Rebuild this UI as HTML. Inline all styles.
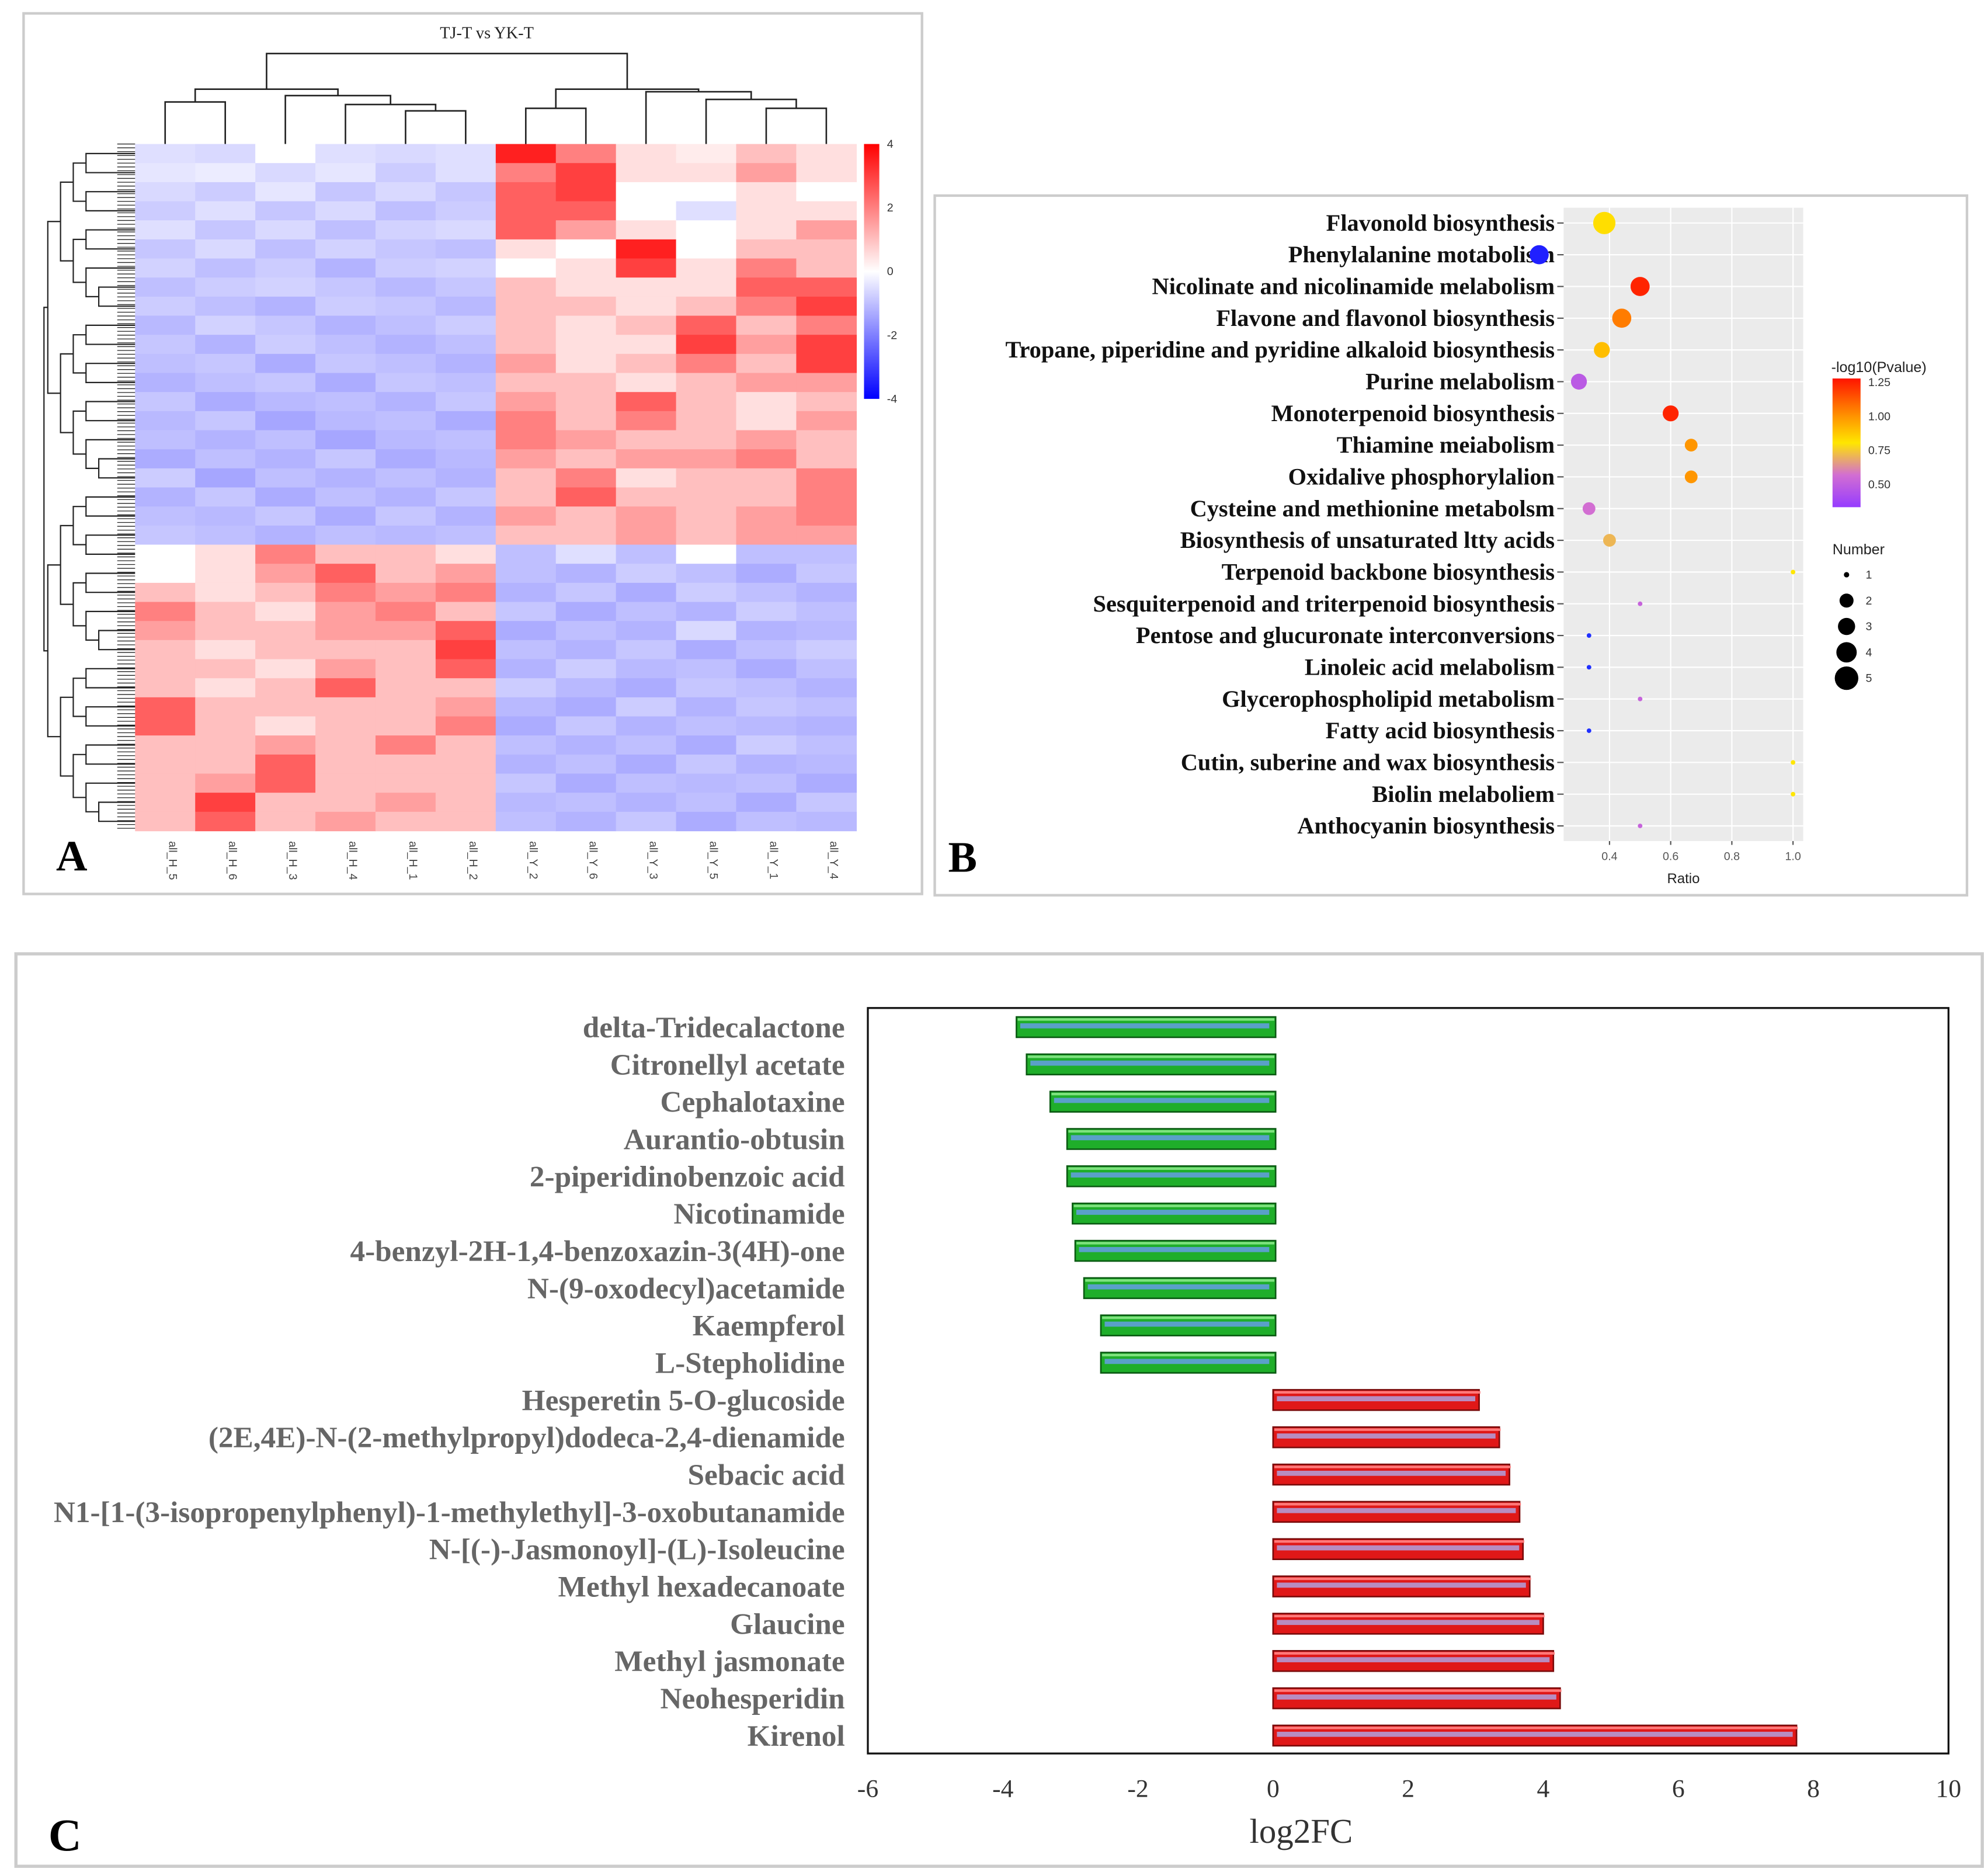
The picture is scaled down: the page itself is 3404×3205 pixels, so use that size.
<!DOCTYPE html>
<html><head><meta charset="utf-8">
<style>
html,body{margin:0;padding:0;background:#fff;}
svg{display:block;}
</style></head>
<body>
<svg id="root" xmlns="http://www.w3.org/2000/svg" width="3404" height="3205" viewBox="0 0 1560 1469" preserveAspectRatio="none">
<rect x="0" y="0" width="1560" height="1469" fill="#fff"/>
<g id="pa"></g>
<g id="pb"></g>
<g id="pc"></g>
</svg>
<script>
// ===== Panel A data =====
const hmColumns = ["all_H_5","all_H_6","all_H_3","all_H_4","all_H_1","all_H_2","all_Y_2","all_Y_6","all_Y_3","all_Y_5","all_Y_1","all_Y_4"];
const hmValues = [
[-0.5,-0.6,0,-0.5,-0.6,-0.5, 3.5,2,0.5,0.3,1,0.5],
[-0.4,-0.3,-0.6,-0.4,-0.8,-0.5, 2,3,0.5,0.5,1.5,0.5],
[-0.6,-0.8,-0.4,-0.9,-0.6,-0.9, 2.5,3,0,0,0.5,0],
[-0.8,-0.5,-0.9,-0.6,-1,-0.8, 2.5,2.5,0,-0.5,0.5,0.5],
[-0.5,-0.9,-0.6,-1,-0.7,-0.6, 2.5,1.5,0.5,0,0.5,1.5],
[-0.9,-0.6,-1,-0.7,-0.9,-1, 0.5,0,3.5,0,1,1],
[-0.7,-1,-0.8,-1.2,-0.8,-0.7, 0,0.5,3,0.5,2,1],
[-1,-0.8,-0.7,-0.9,-1.1,-0.9, 1,0.5,0.5,0.5,2.5,2.5],
[-0.8,-1,-1.2,-0.8,-0.9,-1.1, 1,1,0.5,1,2,3],
[-1.1,-0.7,-0.9,-1.2,-1,-0.8, 1,0.5,1,2.5,1,2],
[-0.9,-1.2,-0.8,-1,-1.2,-1, 1,0.5,0.5,3,1.5,3],
[-1,-0.9,-1.3,-0.9,-1,-1.2, 1.5,0.5,1,2,1,3],
[-1.2,-1,-0.9,-1.3,-0.9,-1, 1,1,0.5,1,1.5,1.5],
[-0.9,-1.3,-1.1,-1,-1.2,-0.9, 1.5,1,2.5,1,0.5,1],
[-1.1,-0.9,-1.4,-1.1,-1,-1.3, 2,1,2,1,0.5,1.5],
[-1,-1.2,-1,-1.4,-1.1,-1, 2,1.5,1,1,1.5,1],
[-1.3,-1,-1.2,-0.9,-1.3,-1.1, 1.5,1,1.5,1.5,2,1],
[-0.8,-1.4,-1,-1.2,-1,-1.2, 1,2,0.5,1,1,2],
[-1.2,-0.9,-1.3,-1,-1.2,-0.9, 1,2.5,1,1,1,2],
[-1,-1.1,-0.9,-1.3,-0.9,-1.2, 1.5,1,1.5,1,1.5,2],
[-0.9,-1,-1.2,-1,-1.1,-1, 1,1,1.5,1,1.5,1.5],
[0,0.5,2,1,1,0.5, -1,-0.5,-1,0,-1,-1],
[0,0.5,1.5,2.5,1,1.5, -1,-1.2,-0.8,-1,-1.3,-0.9],
[1,0.5,1,2,1.5,2, -1.2,-0.9,-1.3,-0.8,-1,-1.2],
[2,1,0.5,1.5,2,1, -0.9,-1.3,-1,-1.2,-0.8,-1],
[1.5,1,1,1.5,1.5,2.5, -1.3,-1,-1.2,-0.6,-1.2,-1.1],
[1,0.5,1,1,1,3, -1,-1.2,-0.9,-1.3,-1,-0.8],
[1,1,0.5,1.5,1,2.5, -1.2,-0.8,-1.1,-1,-1.3,-1],
[1,0.5,1,2.5,1,1, -0.8,-1.1,-1.3,-0.9,-1,-1.2],
[2.5,1,1,1,1,1.5, -1.1,-1.3,-0.8,-1.2,-0.9,-1],
[2.5,1,0.5,1,1,2, -1.3,-0.9,-1.2,-1,-1.1,-1.2],
[1,1,1.5,1,2,1, -1,-1.2,-1,-1.3,-0.8,-1],
[1,1,2.5,1,1,1, -1.2,-1,-1.3,-0.9,-1.2,-1.1],
[1,1.5,2.5,1,1,1, -0.9,-1.3,-1,-1.1,-1,-1.3],
[1,3,1,1,1.5,1, -1.1,-1,-1.2,-1,-1.3,-0.9],
[1,2.5,1,1.5,1,1, -1,-1.2,-0.9,-1.3,-1,-1.1]
];
const hmTicks = [4,2,0,-2,-4];

// ===== Panel B data =====
const pathways = ["Flavonold biosynthesis","Phenylalanine motabolism","Nicolinate and nicolinamide melabolism","Flavone and flavonol biosynthesis","Tropane, piperidine and pyridine alkaloid biosynthesis","Purine melabolism","Monoterpenoid biosynthesis","Thiamine meiabolism","Oxidalive phosphorylalion","Cysteine and methionine metabolsm","Biosynthesis of unsaturated ltty acids","Terpenoid backbone biosynthesis","Sesquiterpenoid and triterpenoid biosynthesis","Pentose and glucuronate interconversions","Linoleic acid melabolism","Glycerophospholipid metabolism","Fatty acid biosynthesis","Cutin, suberine and wax biosynthesis","Biolin melaboliem","Anthocyanin biosynthesis"];
const ratios = [0.383,0.17,0.5,0.44,0.375,0.3,0.6,0.667,0.667,0.333,0.4,1.0,0.5,0.333,0.333,0.5,0.333,1.0,1.0,0.5];
const pvals = [0.82,0.35,1.22,1.05,0.9,0.45,1.22,1.0,1.0,0.55,0.7,0.8,0.5,0.3,0.3,0.5,0.3,0.8,0.8,0.5];
const counts = [5,4,4,4,3,3,3,2,2,2,2,1,1,1,1,1,1,1,1,1];
const ratioTicks = [0.4,0.6,0.8,1.0];
const pvalTicks = [1.25,1.00,0.75,0.50];
const numberTicks = [1,2,3,4,5];

// ===== Panel C data =====
const metabolites = ["delta-Tridecalactone","Citronellyl acetate","Cephalotaxine","Aurantio-obtusin","2-piperidinobenzoic acid","Nicotinamide","4-benzyl-2H-1,4-benzoxazin-3(4H)-one","N-(9-oxodecyl)acetamide","Kaempferol","L-Stepholidine","Hesperetin 5-O-glucoside","(2E,4E)-N-(2-methylpropyl)dodeca-2,4-dienamide","Sebacic acid","N1-[1-(3-isopropenylphenyl)-1-methylethyl]-3-oxobutanamide","N-[(-)-Jasmonoyl]-(L)-Isoleucine","Methyl hexadecanoate","Glaucine","Methyl jasmonate","Neohesperidin","Kirenol"];
const log2fc = [-3.8,-3.65,-3.3,-3.05,-3.05,-2.97,-2.93,-2.8,-2.55,-2.55,3.05,3.35,3.5,3.65,3.7,3.8,4.0,4.15,4.25,7.75];
const fcTicks = [-6,-4,-2,0,2,4,6,8,10];

const NS="http://www.w3.org/2000/svg";
function mk(parent,tag,attrs,text){const e=document.createElementNS(NS,tag);for(const k in attrs)e.setAttribute(k,attrs[k]);if(text!==undefined)e.textContent=text;parent.appendChild(e);return e;}

// ---------- Panel A ----------
(function(){
const g=document.getElementById('pa');
let e=mk(g,'rect',{x:18.5,y:10.5,width:705,height:691,fill:'none',stroke:'#ccc','stroke-width':2});


e=mk(g,'text',{x:382,y:30,'font-family':'Liberation Serif, serif','font-size':13,'text-anchor':'middle',fill:'#222'},'TJ-T vs YK-T');


const X0=106,X1=672,Y0=113,Y1=652;
const cw=(X1-X0)/hmColumns.length, rh=(Y1-Y0)/hmValues.length;
function col(v){const t=Math.max(-1,Math.min(1,v/4));
 if(t>=0){const c=Math.round(255*(1-t));return `rgb(255,${c},${c})`;}
 const c=Math.round(255*(1+t));return `rgb(${c},${c},255)`;}
const hm=mk(g,'g',{});


hmValues.forEach((row,i)=>row.forEach((v,j)=>{
 const r=mk(hm,'rect',{x:X0+j*cw,y:Y0+i*rh,width:cw+0.3,height:rh+0.3,fill:col(v)});
 
 
}));
hmColumns.forEach((c,j)=>{
 const x=X0+(j+0.5)*cw;
 const t=mk(g,'text',{x:0,y:0,transform:`translate(${x+3},660) rotate(90)`,'font-family':'Liberation Sans, sans-serif','font-size':9,fill:'#444'},c);
 
 
});
const defs=mk(g,'defs',{});
const lg=mk(defs,'linearGradient',{id:'hmg',x1:0,y1:0,x2:0,y2:1});
mk(lg,'stop',{offset:'0',  'stop-color':'#ff0000'});
mk(lg,'stop',{offset:'0.5','stop-color':'#ffffff'});
mk(lg,'stop',{offset:'1',  'stop-color':'#0000ff'});
e=mk(g,'rect',{x:678,y:113,width:12,height:200,fill:'url(#hmg)'});


hmTicks.forEach(v=>{const y=113+(4-v)/8*200;
 const t=mk(g,'text',{x:696,y:y+3,'font-family':'Liberation Sans, sans-serif','font-size':9,fill:'#333'},String(v));
 
 });
const td=mk(g,'g',{stroke:'#222','stroke-width':1.2,fill:'none'});


const cx=j=>X0+(j+0.5)*cw;
function U(xa,ya,xb,yb,ytop){mk(td,'path',{d:`M${xa},${ya}V${ytop}H${xb}V${yb}`});}
U(cx(0),113,cx(1),113,80);
U(cx(4),113,cx(5),113,87);
const m45=(cx(4)+cx(5))/2;
U(cx(3),113,m45,87,82);
const m345=(cx(3)+m45)/2;
U(cx(2),113,m345,82,75);
const m2=(cx(2)+m345)/2, m01=(cx(0)+cx(1))/2;
U(m01,80,m2,75,70);
U(cx(6),113,cx(7),113,85);
U(cx(10),113,cx(11),113,85);
const m1011=(cx(10)+cx(11))/2;
U(cx(9),113,m1011,85,78);
const m9=(cx(9)+m1011)/2;
U(cx(8),113,m9,78,72);
const m8=(cx(8)+m9)/2, m67=(cx(6)+cx(7))/2;
U(m67,85,m8,72,70);
U((m01+m2)/2,70,(m67+m8)/2,70,42);
const ld=mk(g,'g',{stroke:'#222','stroke-width':1,fill:'none'});


function tree(a,b,depth){
 if(b-a<=1){return [Y0+(a+0.5)*rh,X0];}
 const m=Math.floor((a+b)/2);
 const p=tree(a,m,depth+1), q=tree(m,b,depth+1);
 const x=Math.max(36,X0-12-Math.max(0,7-depth)*9.5+depth*0.5);
 const xx=Math.min(x,Math.min(p[1],q[1])-3);
 mk(ld,'path',{d:`M${p[1]},${p[0]}H${xx}V${q[0]}H${q[1]}`});
 return [(p[0]+q[0])/2,xx];
}
tree(0,hmValues.length,0);
for(let y=Y0;y<Y1;y+=3){mk(ld,'line',{x1:92,y1:y,x2:X0,y2:y,'stroke-width':0.6});}
e=mk(g,'text',{x:44,y:683,'font-family':'Liberation Serif, serif','font-size':34,'font-weight':'bold',fill:'#000'},'A');


})();

// ---------- Panel B ----------
(function(){
const g=document.getElementById('pb');
let e=mk(g,'rect',{x:733.5,y:153.5,width:810,height:549,fill:'none',stroke:'#ccc','stroke-width':2});


const PX0=1227,PX1=1415,PY0=163,PY1=660;
e=mk(g,'rect',{x:PX0,y:PY0,width:PX1-PX0,height:PY1-PY0,fill:'#ebebeb'});


const xs=r=>1263+(r-0.4)*240;
const ys=i=>175+i*24.9;
ratioTicks.forEach(t=>{mk(g,'line',{x1:xs(t),y1:PY0,x2:xs(t),y2:PY1,stroke:'#fff','stroke-width':1});});
pathways.forEach((p,i)=>{mk(g,'line',{x1:PX0,y1:ys(i),x2:PX1,y2:ys(i),stroke:'#fff','stroke-width':1});});
function pc(v){
 const stops=[[0.3,[150,60,255]],[0.55,[210,110,210]],[0.8,[255,230,0]],[1.0,[255,150,0]],[1.25,[255,20,0]]];
 v=Math.max(0.3,Math.min(1.25,v));
 for(let k=0;k<stops.length-1;k++){const a=stops[k],b=stops[k+1];if(v<=b[0]){const t=(v-a[0])/(b[0]-a[0]);return `rgb(${a[1].map((c,n)=>Math.round(c+(b[1][n]-c)*t)).join(',')})`;}}
 return 'rgb(255,20,0)';
}
function colP(i){ if(i===1) return '#2020ff'; if(pvals[i]<=0.3) return '#2030ff'; return pc(pvals[i]); }
const rad=n=>n===1?1.8:2.5+n*1.25;
pathways.forEach((p,i)=>{
 const t=mk(g,'text',{x:1220,y:ys(i)+6,'text-anchor':'end','font-family':'Liberation Serif, serif','font-size':18.5,'font-weight':'bold',fill:'#111'},p);
 
 
 mk(g,'line',{x1:1222,y1:ys(i),x2:PX0,y2:ys(i),stroke:'#555','stroke-width':1});
 const c=mk(g,'circle',{cx:xs(ratios[i]),cy:ys(i),r:rad(counts[i]),fill:colP(i)});
 
 
});
ratioTicks.forEach(t=>{
 mk(g,'line',{x1:xs(t),y1:PY1,x2:xs(t),y2:PY1+3,stroke:'#555'});
 const l=mk(g,'text',{x:xs(t),y:PY1+15,'text-anchor':'middle','font-family':'Liberation Sans, sans-serif','font-size':9,fill:'#555'},t.toFixed(1));
 
 
});
e=mk(g,'text',{x:1321,y:693,'text-anchor':'middle','font-family':'Liberation Sans, sans-serif','font-size':11,fill:'#222'},'Ratio');


e=mk(g,'text',{x:1437,y:292,'font-family':'Liberation Sans, sans-serif','font-size':11.5,fill:'#222'},'-log10(Pvalue)');


const defs=mk(g,'defs',{});
const lg=mk(defs,'linearGradient',{id:'pvg',x1:0,y1:0,x2:0,y2:1});
[[0,'#ff1400'],[0.3,'#ff9600'],[0.5,'#ffe600'],[0.75,'#d26ed2'],[1,'#963cff']].forEach(s=>mk(lg,'stop',{offset:s[0],'stop-color':s[1]}));
e=mk(g,'rect',{x:1438,y:297,width:22,height:101,fill:'url(#pvg)'});


pvalTicks.forEach(v=>{const y=300+(1.25-v)/0.25*26.7;
 const l=mk(g,'text',{x:1466,y:y+3,'font-family':'Liberation Sans, sans-serif','font-size':9,fill:'#333'},v.toFixed(2));
 
 });
e=mk(g,'text',{x:1438,y:435,'font-family':'Liberation Sans, sans-serif','font-size':11.5,fill:'#222'},'Number');


numberTicks.forEach((n,k)=>{const y=451+k*20.3;
 const c=mk(g,'circle',{cx:1449,cy:y,r:rad(n)+ (n>1?0.5:0.3),fill:'#000'});
 
 
 const l=mk(g,'text',{x:1464,y:y+3,'font-family':'Liberation Sans, sans-serif','font-size':9,fill:'#333'},String(n));
 
 });
e=mk(g,'text',{x:744,y:684,'font-family':'Liberation Serif, serif','font-size':34,'font-weight':'bold',fill:'#000'},'B');


})();

// ---------- Panel C ----------
(function(){
const g=document.getElementById('pc');
let e=mk(g,'rect',{x:12.5,y:748.5,width:1543,height:716,fill:'none',stroke:'#ccc','stroke-width':2.5});


const PX0=681,PX1=1529,PY0=791,PY1=1376;
const xs=v=>PX0+(v+6)*(PX1-PX0)/16;
const ys=i=>806+i*29.26;
e=mk(g,'rect',{x:PX0,y:PY0,width:PX1-PX0,height:PY1-PY0,fill:'#fff',stroke:'#111','stroke-width':1.5});


log2fc.forEach((v,i)=>{
 const neg=v<0, x0=xs(Math.min(0,v)), w=Math.abs(xs(v)-xs(0)), y=ys(i)-8;
 const b=mk(g,'rect',{x:x0,y:y,width:w+(neg?2:0),height:16,fill:neg?'#1fae2a':'#e01818',stroke:neg?'#0a5a12':'#7a0a0a','stroke-width':1.2});
 
 
 mk(g,'rect',{x:x0+3,y:y+5,width:Math.max(0,w-6),height:4,fill:neg?'#5aa0c8':'#b88cc0'});
 mk(g,'rect',{x:x0+1,y:y+1,width:w,height:2,fill:neg?'#7ee27e':'#ff7a7a'});
 const t=mk(g,'text',{x:663,y:ys(i)+8,'text-anchor':'end','font-family':'Liberation Serif, serif','font-size':23.5,'font-weight':'bold',fill:'#666'},metabolites[i]);
 
 
});
fcTicks.forEach(t=>{
 const l=mk(g,'text',{x:xs(t),y:1410,'text-anchor':'middle','font-family':'Liberation Serif, serif','font-size':20,fill:'#333'},String(t));
 
 
});
e=mk(g,'text',{x:1021,y:1446,'text-anchor':'middle','font-family':'Liberation Serif, serif','font-size':27,fill:'#333'},'log2FC');


e=mk(g,'text',{x:38,y:1452,'font-family':'Liberation Serif, serif','font-size':36,'font-weight':'bold',fill:'#000'},'C');


})();
</script>
</body></html>
